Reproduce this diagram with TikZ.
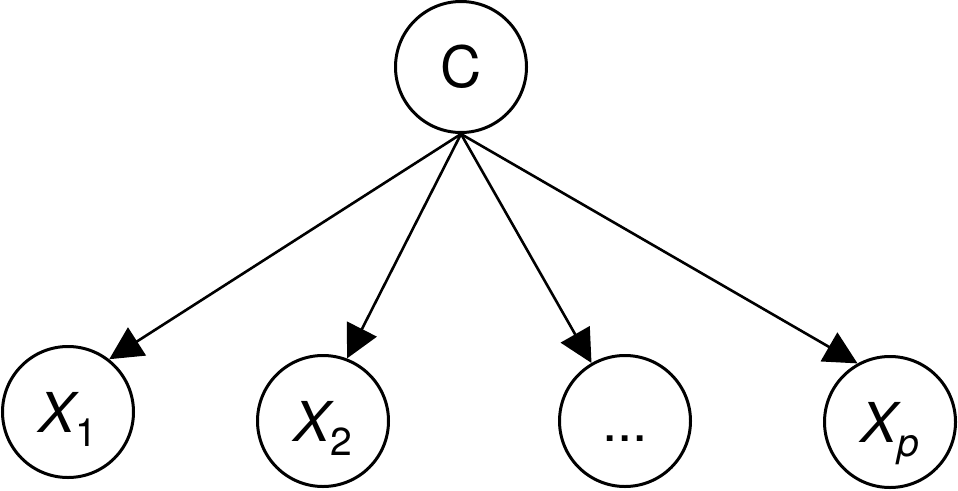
\documentclass[tikz,border=0pt]{standalone}
\usepackage{fontspec}
\setmainfont{TeX Gyre Heros}
\usetikzlibrary{arrows.meta}
\newcommand\mysub[1]{\raisebox{-14pt}{\fontsize{39}{40}\selectfont #1}}
\begin{document}
\begin{tikzpicture}[x=1pt,y=-1pt,
  var/.style={draw, circle, line width=3pt, minimum size=131pt, inner sep=0pt,
    text height=40pt, text depth=0pt, font=\fontsize{55}{60}\selectfont},
  edge/.style={line width=2.6pt, -{Triangle[length=33pt,width=33pt]}}]
\useasboundingbox (0,0) rectangle (958,490);
\node[var, font=\fontsize{57}{60}\selectfont, text height=41pt] (C) at (461,67) {C};
\node[var] (X1) at (68,412) {{\itshape X}\mysub{1}};
\node[var] (X2) at (323,421) {{\itshape X}\mysub{2}};
\node[var] (D) at (625,421) {...};
\node[var] (Xp) at (890,422) {{\itshape X}\mysub{\itshape p}};
\draw[edge] (C.south) -- (X1.52);
\draw[edge] (C.south) -- (X2.69);
\draw[edge] (C.south) -- (D.120);
\draw[edge] (C.south) -- (Xp.119);
\end{tikzpicture}
\end{document}
